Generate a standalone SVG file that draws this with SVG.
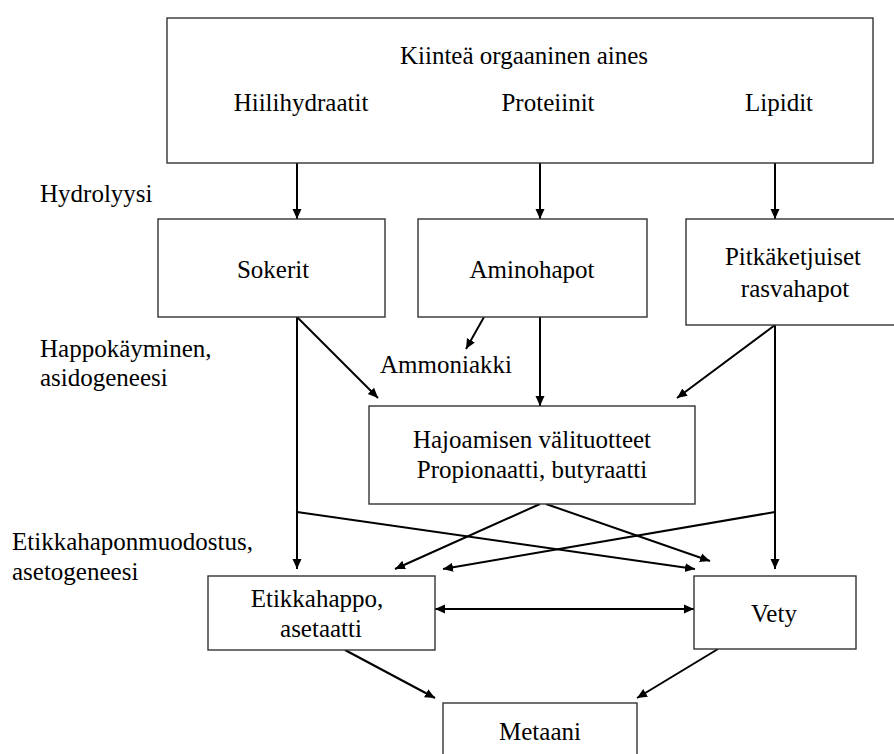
<svg xmlns="http://www.w3.org/2000/svg" width="894" height="754" viewBox="0 0 894 754">
<style>
  .box{fill:#fff;stroke:#333;stroke-width:1.4}
  .t{font-family:"Liberation Serif","Times New Roman",serif;font-size:25px;fill:#000}
  .c{text-anchor:middle}
  .ln{stroke:#000;stroke-width:2;fill:none}
  .a{marker-end:url(#ah)}
  .b{marker-end:url(#ah);marker-start:url(#ahs)}
</style>
<defs>
  <marker id="ah" markerUnits="userSpaceOnUse" markerWidth="10" markerHeight="10" viewBox="0 0 10 10" refX="10" refY="5" orient="auto">
    <path d="M0,0.5 L10,5 L0,9.5 z" fill="#000"/>
  </marker>
  <marker id="ahs" markerUnits="userSpaceOnUse" markerWidth="10" markerHeight="10" viewBox="0 0 10 10" refX="0" refY="5" orient="auto">
    <path d="M10,0.5 L0,5 L10,9.5 z" fill="#000"/>
  </marker>
</defs>
<rect width="894" height="754" fill="#fff"/>

<g id="labels">
  <text class="t" x="40" y="202">Hydrolyysi</text>
  <text class="t" x="40" y="357">Happokäyminen,</text>
  <text class="t" x="40" y="386">asidogeneesi</text>
  <text class="t" x="12" y="550">Etikkahaponmuodostus,</text>
  <text class="t" x="12" y="580">asetogeneesi</text>
</g>

<g id="connectors">
  <line class="ln a" x1="297" y1="163" x2="297" y2="219"/>
  <line class="ln a" x1="540" y1="163" x2="540" y2="219"/>
  <line class="ln a" x1="775" y1="163" x2="775" y2="219"/>
  <line class="ln a" x1="297" y1="317" x2="378" y2="398"/>
  <line class="ln a" x1="297" y1="317" x2="297" y2="569"/>
  <line class="ln a" x1="297" y1="512" x2="695" y2="569"/>
  <line class="ln a" x1="484" y1="317" x2="466" y2="349"/>
  <line class="ln a" x1="540" y1="317" x2="540" y2="406"/>
  <line class="ln a" x1="775" y1="325" x2="677" y2="398"/>
  <line class="ln a" x1="775" y1="325" x2="775" y2="569"/>
  <line class="ln a" x1="775" y1="512" x2="443" y2="569"/>
  <line class="ln a" x1="540" y1="504" x2="395" y2="569"/>
  <line class="ln a" x1="546" y1="504" x2="710" y2="561"/>
  <line class="ln b" x1="435" y1="609" x2="694" y2="609"/>
  <line class="ln a" x1="345" y1="650" x2="435" y2="698"/>
  <line class="ln a" x1="718" y1="649" x2="637" y2="698"/>
</g>

<g id="kiintea">
  <rect class="box" x="167" y="18" width="706" height="145"/>
  <text class="t c" x="524" y="64">Kiinteä orgaaninen aines</text>
  <text class="t c" x="301" y="111">Hiilihydraatit</text>
  <text class="t c" x="548" y="111">Proteiinit</text>
  <text class="t c" x="779" y="111">Lipidit</text>
</g>
<g id="sokerit">
  <rect class="box" x="158" y="219" width="227" height="98"/>
  <text class="t c" x="273" y="278">Sokerit</text>
</g>
<g id="aminohapot">
  <rect class="box" x="418" y="219" width="229" height="98"/>
  <text class="t c" x="532" y="278">Aminohapot</text>
</g>
<g id="rasvahapot">
  <rect class="box" x="686" y="219" width="216" height="106"/>
  <text class="t c" x="793" y="265">Pitkäketjuiset</text>
  <text class="t c" x="795" y="297">rasvahapot</text>
</g>
<g id="ammoniakki">
  <text class="t" x="380" y="373">Ammoniakki</text>
</g>
<g id="valituotteet">
  <rect class="box" x="369" y="406" width="326" height="98"/>
  <text class="t c" x="532" y="448">Hajoamisen välituotteet</text>
  <text class="t c" x="532" y="478">Propionaatti, butyraatti</text>
</g>
<g id="etikkahappo">
  <rect class="box" x="208" y="576" width="227" height="74"/>
  <text class="t c" x="317" y="607">Etikkahappo,</text>
  <text class="t c" x="321" y="637">asetaatti</text>
</g>
<g id="vety">
  <rect class="box" x="694" y="576" width="162" height="73"/>
  <text class="t c" x="774" y="622">Vety</text>
</g>
<g id="metaani">
  <rect class="box" x="443" y="703" width="194" height="60"/>
  <text class="t c" x="540" y="740">Metaani</text>
</g>
</svg>
